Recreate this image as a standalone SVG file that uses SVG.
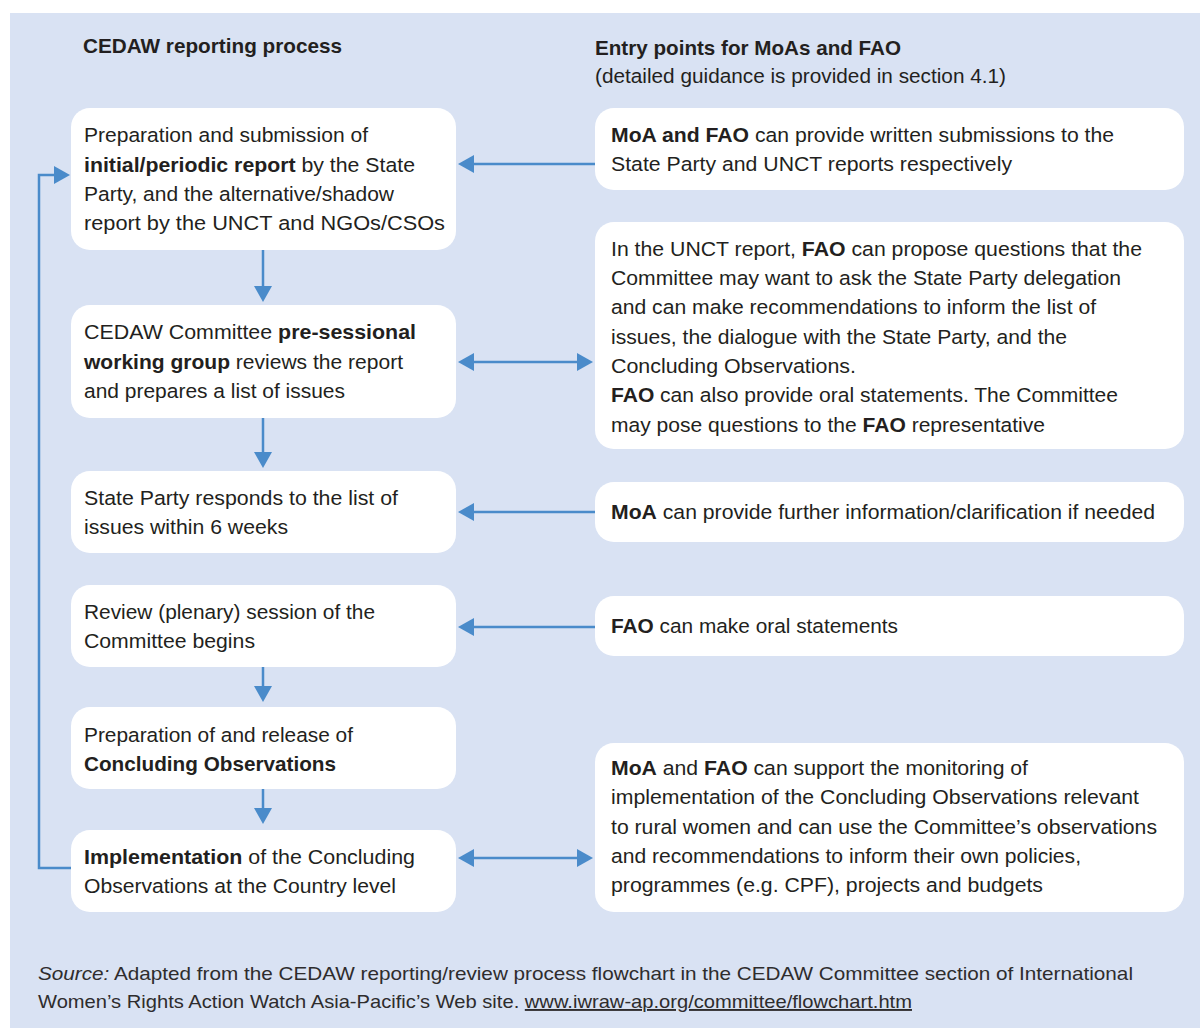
<svg xmlns="http://www.w3.org/2000/svg" width="1200" height="1028" viewBox="0 0 1200 1028">
<style>
  .bg { fill: #d9e2f3; }
  .box { fill: #ffffff; }
  .t { font-family: "Liberation Sans", Arial, Helvetica, sans-serif; font-size: 20.5px; fill: #231f20; }
  .r { font-family: "Liberation Sans", Arial, Helvetica, sans-serif; font-size: 20.5px; fill: #231f20; }
  .h { font-family: "Liberation Sans", Arial, Helvetica, sans-serif; font-size: 20.5px; font-weight: bold; fill: #231f20; }
  .f { font-family: "Liberation Sans", Arial, Helvetica, sans-serif; font-size: 19px; fill: #2e2c2d; }
  .b { font-weight: bold; }
  .conn { stroke: #4a8bca; stroke-width: 2.5; fill: none; }
</style>
<defs>
  <marker id="ah" markerUnits="userSpaceOnUse" markerWidth="16" markerHeight="18" refX="8" refY="9" orient="auto-start-reverse" viewBox="0 0 16 18">
    <path d="M0,0 L16,9 L0,18 z" fill="#4a8bca"/>
  </marker>
</defs>
<rect class="bg" x="10" y="13" width="1190" height="1015"/>

<text class="h" x="83" y="53" textLength="259" lengthAdjust="spacingAndGlyphs">CEDAW reporting process</text>
<text class="h" x="595" y="55" textLength="306" lengthAdjust="spacingAndGlyphs">Entry points for MoAs and FAO</text>
<text class="r" x="595" y="83" textLength="411" lengthAdjust="spacingAndGlyphs">(detailed guidance is provided in section 4.1)</text>

<g id="connectors">
  <line class="conn" x1="263" y1="250" x2="263" y2="294" marker-end="url(#ah)"/>
  <line class="conn" x1="263" y1="418" x2="263" y2="460" marker-end="url(#ah)"/>
  <line class="conn" x1="263" y1="667" x2="263" y2="694" marker-end="url(#ah)"/>
  <line class="conn" x1="263" y1="789" x2="263" y2="816" marker-end="url(#ah)"/>
  <line class="conn" x1="595" y1="164" x2="466" y2="164" marker-end="url(#ah)"/>
  <line class="conn" x1="466" y1="362" x2="585" y2="362" marker-start="url(#ah)" marker-end="url(#ah)"/>
  <line class="conn" x1="595" y1="512" x2="466" y2="512" marker-end="url(#ah)"/>
  <line class="conn" x1="595" y1="627" x2="466" y2="627" marker-end="url(#ah)"/>
  <line class="conn" x1="466" y1="858" x2="585" y2="858" marker-start="url(#ah)" marker-end="url(#ah)"/>
  <path class="conn" d="M71,868 H39 V175 H62" marker-end="url(#ah)"/>
</g>

<g id="step1">
  <rect class="box" x="71" y="108" width="385" height="142" rx="19"/>
  <text class="t" x="84" y="142" textLength="284" lengthAdjust="spacingAndGlyphs">Preparation and submission of</text>
  <text class="t" x="84" y="171.5" textLength="331" lengthAdjust="spacingAndGlyphs"><tspan class="b">initial/periodic report</tspan> by the State</text>
  <text class="t" x="84" y="201" textLength="310" lengthAdjust="spacingAndGlyphs">Party, and the alternative/shadow</text>
  <text class="t" x="84" y="230" textLength="361" lengthAdjust="spacingAndGlyphs">report by the UNCT and NGOs/CSOs</text>
</g>

<g id="step2">
  <rect class="box" x="71" y="305" width="385" height="113" rx="19"/>
  <text class="t" x="84" y="339" textLength="332" lengthAdjust="spacingAndGlyphs">CEDAW Committee <tspan class="b">pre-sessional</tspan></text>
  <text class="t" x="84" y="368.5" textLength="319" lengthAdjust="spacingAndGlyphs"><tspan class="b">working group</tspan> reviews the report</text>
  <text class="t" x="84" y="398" textLength="261" lengthAdjust="spacingAndGlyphs">and prepares a list of issues</text>
</g>

<g id="step3">
  <rect class="box" x="71" y="471" width="385" height="82" rx="19"/>
  <text class="t" x="84" y="504.5" textLength="314" lengthAdjust="spacingAndGlyphs">State Party responds to the list of</text>
  <text class="t" x="84" y="534" textLength="204" lengthAdjust="spacingAndGlyphs">issues within 6 weeks</text>
</g>

<g id="step4">
  <rect class="box" x="71" y="585" width="385" height="82" rx="19"/>
  <text class="t" x="84" y="618.5" textLength="291" lengthAdjust="spacingAndGlyphs">Review (plenary) session of the</text>
  <text class="t" x="84" y="648" textLength="171" lengthAdjust="spacingAndGlyphs">Committee begins</text>
</g>

<g id="step5">
  <rect class="box" x="71" y="707" width="385" height="82" rx="19"/>
  <text class="t" x="84" y="741.5" textLength="269" lengthAdjust="spacingAndGlyphs">Preparation of and release of</text>
  <text class="t b" x="84" y="771" textLength="252" lengthAdjust="spacingAndGlyphs">Concluding Observations</text>
</g>

<g id="step6">
  <rect class="box" x="71" y="830" width="385" height="82" rx="19"/>
  <text class="t" x="84" y="863.5" textLength="331" lengthAdjust="spacingAndGlyphs"><tspan class="b">Implementation</tspan> of the Concluding</text>
  <text class="t" x="84" y="893" textLength="312" lengthAdjust="spacingAndGlyphs">Observations at the Country level</text>
</g>

<g id="entry1">
  <rect class="box" x="595" y="108" width="589" height="82" rx="19"/>
  <text class="r" x="611" y="141.5" textLength="503" lengthAdjust="spacingAndGlyphs"><tspan class="b">MoA and FAO</tspan> can provide written submissions to the</text>
  <text class="r" x="611" y="171" textLength="401" lengthAdjust="spacingAndGlyphs">State Party and UNCT reports respectively</text>
</g>

<g id="entry2">
  <rect class="box" x="595" y="222" width="589" height="227" rx="19"/>
  <text class="r" x="611" y="255.5" textLength="531" lengthAdjust="spacingAndGlyphs">In the UNCT report, <tspan class="b">FAO</tspan> can propose questions that the</text>
  <text class="r" x="611" y="285" textLength="510" lengthAdjust="spacingAndGlyphs">Committee may want to ask the State Party delegation</text>
  <text class="r" x="611" y="314.3" textLength="485" lengthAdjust="spacingAndGlyphs">and can make recommendations to inform the list of</text>
  <text class="r" x="611" y="343.6" textLength="456" lengthAdjust="spacingAndGlyphs">issues, the dialogue with the State Party, and the</text>
  <text class="r" x="611" y="373" textLength="245" lengthAdjust="spacingAndGlyphs">Concluding Observations.</text>
  <text class="r" x="611" y="402.3" textLength="507" lengthAdjust="spacingAndGlyphs"><tspan class="b">FAO</tspan> can also provide oral statements. The Committee</text>
  <text class="r" x="611" y="431.6" textLength="434" lengthAdjust="spacingAndGlyphs">may pose questions to the <tspan class="b">FAO</tspan> representative</text>
</g>

<g id="entry3">
  <rect class="box" x="595" y="482" width="589" height="60" rx="19"/>
  <text class="r" x="611" y="518.5" textLength="544" lengthAdjust="spacingAndGlyphs"><tspan class="b">MoA</tspan> can provide further information/clarification if needed</text>
</g>

<g id="entry4">
  <rect class="box" x="595" y="596" width="589" height="60" rx="19"/>
  <text class="r" x="611" y="632.5" textLength="287" lengthAdjust="spacingAndGlyphs"><tspan class="b">FAO</tspan> can make oral statements</text>
</g>

<g id="entry5">
  <rect class="box" x="595" y="743" width="589" height="169" rx="19"/>
  <text class="r" x="611" y="775" textLength="417" lengthAdjust="spacingAndGlyphs"><tspan class="b">MoA</tspan> and <tspan class="b">FAO</tspan> can support the monitoring of</text>
  <text class="r" x="611" y="804.3" textLength="528" lengthAdjust="spacingAndGlyphs">implementation of the Concluding Observations relevant</text>
  <text class="r" x="611" y="833.6" textLength="546" lengthAdjust="spacingAndGlyphs">to rural women and can use the Committee’s observations</text>
  <text class="r" x="611" y="862.9" textLength="470" lengthAdjust="spacingAndGlyphs">and recommendations to inform their own policies,</text>
  <text class="r" x="611" y="892.2" textLength="432" lengthAdjust="spacingAndGlyphs">programmes (e.g. CPF), projects and budgets</text>
</g>

<g id="footer">
  <text class="f" x="38" y="980" textLength="1095" lengthAdjust="spacingAndGlyphs"><tspan font-style="italic">Source:</tspan> Adapted from the CEDAW reporting/review process flowchart in the CEDAW Committee section of International</text>
  <text class="f" x="38" y="1008" textLength="874" lengthAdjust="spacingAndGlyphs">Women’s Rights Action Watch Asia-Pacific’s Web site. <tspan text-decoration="underline">www.iwraw-ap.org/committee/flowchart.htm</tspan></text>
</g>
</svg>
